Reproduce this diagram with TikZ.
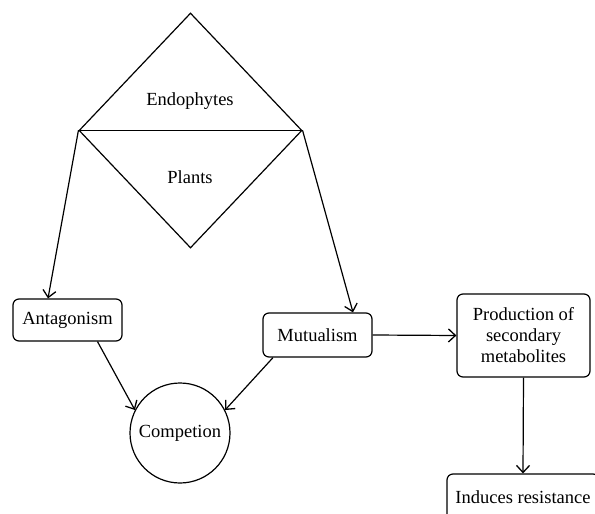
\documentclass[tikz,border=0pt]{standalone}
\usepackage{fontspec}
\setmainfont{Liberation Serif}
\usetikzlibrary{arrows.meta, shapes.geometric}

\tikzset{
  box/.style = {draw, rounded corners=6pt, inner sep=2pt, align=center},
  lbl/.style = {inner sep=0pt},
  arr/.style = {-{Straight Barb[length=7pt, width=13pt, line width=1.3pt]}},
}

\begin{document}
\begin{tikzpicture}[x=1pt, y=-1pt, font=\fontsize{18.5}{21}\selectfont, line width=1.2pt]
				\useasboundingbox (0,0) rectangle (595,514);
				\clip (0,0) rectangle (595,514);
				\node[draw, shape = diamond, minimum width = 223pt, minimum height = 235pt, inner sep = 0pt] (dia) at (190.5,130.5) {};
				\draw (dia.west) -- (dia.east);
				\node[lbl] (endo) at (190,101) {Endophytes};
				\node[lbl] (plant) at (190,177) {Plants};
				\node[box, minimum width = 109pt, minimum height = 42pt] (ant) at (67.5,320) {Antagonism};
				\node[box, minimum width = 109pt, minimum height = 44pt] (mut) at (317.5,335) {Mutualism};
				\node[draw, circle, minimum size = 100pt, inner sep = 0pt] (comp) at (180,433) {Competion};
				\node[box, minimum width = 133pt, minimum height = 83pt] (prod) at (523.5,335.5) {Production of\\secondary\\metabolites};
				\node[box, minimum width = 152pt, minimum height = 46pt] (ind) at (523,497) {Induces resistance};
				\draw[arr] (dia.west) -- ([xshift=-19.5pt]ant.north);
				\draw[arr] (dia.east) -- ([xshift=35.5pt]mut.north);
				\draw[arr] ([xshift=30pt]ant.south) -- (comp.153);
				\draw[arr] ([xshift=-44.5pt]mut.south) -- (comp.27);
				\draw[arr] (mut.east) -- (prod.west);
				\draw[arr] (prod.south) -- (ind.north);
			\end{tikzpicture}
\end{document}
